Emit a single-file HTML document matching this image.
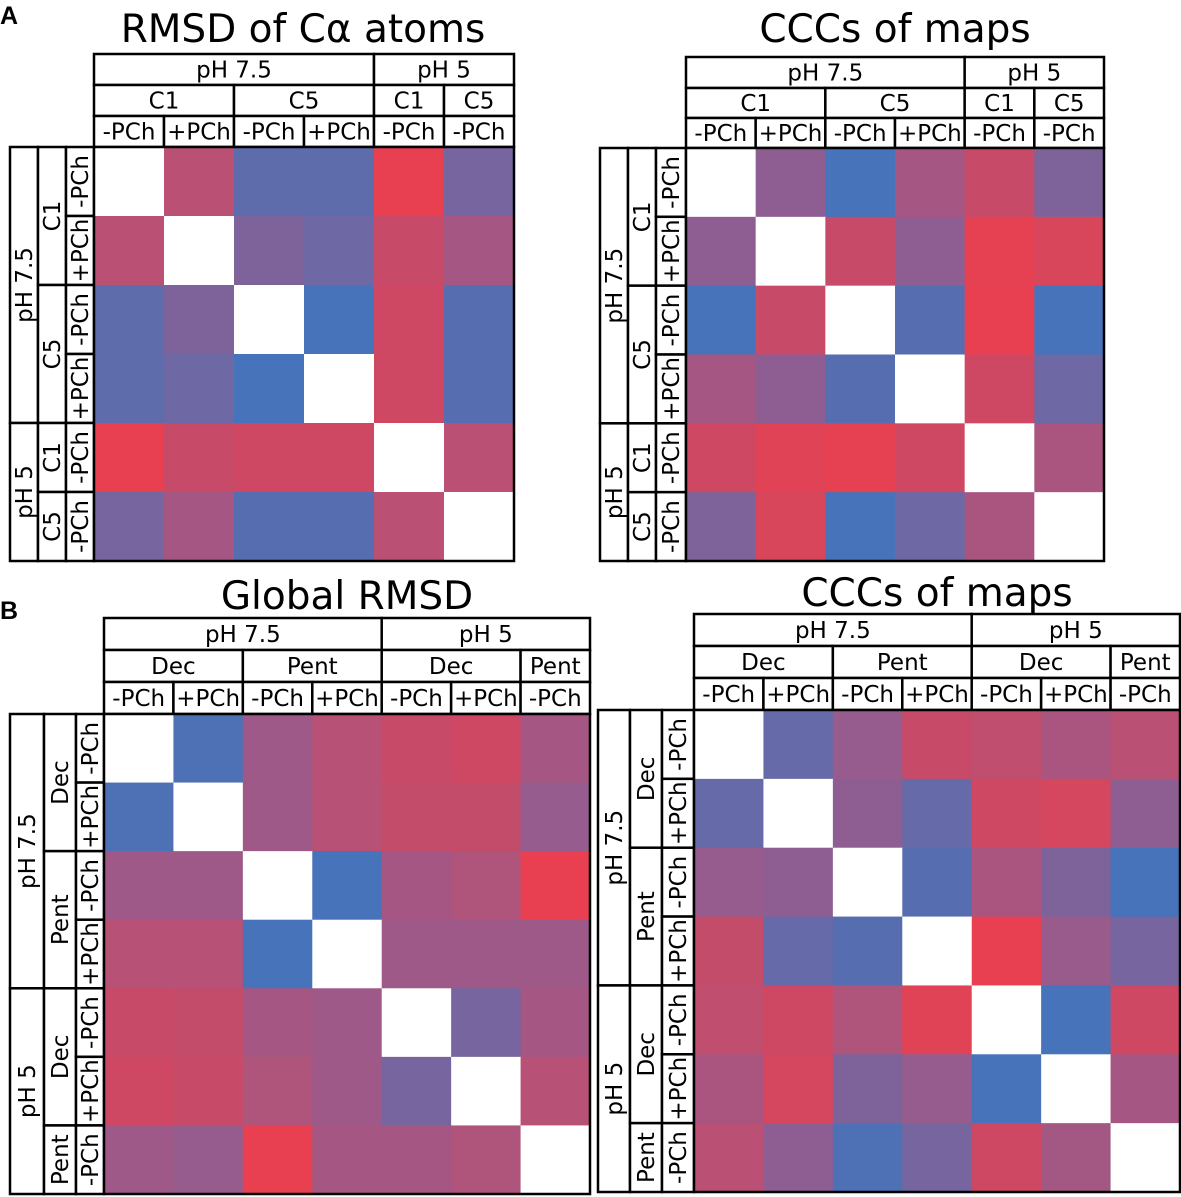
<!DOCTYPE html>
<html><head><meta charset="utf-8"><style>
html,body{margin:0;padding:0;background:#fff;}
svg{display:block;font-family:"DejaVu Sans","Liberation Sans",sans-serif;}
</style></head><body>
<svg id="fig" width="1181" height="1197" viewBox="0 0 1181 1197" xmlns="http://www.w3.org/2000/svg">
<text x="0" y="24" font-size="25" font-weight="bold" font-family="Liberation Sans, sans-serif">A</text>
<text x="0" y="619" font-size="25" font-weight="bold" font-family="Liberation Sans, sans-serif">B</text>
</svg>
<script>
// ---- data ----
const aLevel1 = ["pH 7.5","pH 5"];
const aLevel1Span = [4,2];
const aLevel2 = ["C1","C5","C1","C5"];
const aLevel2Span = [2,2,1,1];
const aLevel3 = ["-PCh","+PCh","-PCh","+PCh","-PCh","-PCh"];
const bLevel1 = ["pH 7.5","pH 5"];
const bLevel1Span = [4,3];
const bLevel2 = ["Dec","Pent","Dec","Pent"];
const bLevel2Span = [2,2,2,1];
const bLevel3 = ["-PCh","+PCh","-PCh","+PCh","-PCh","+PCh","-PCh"];
// values 0 = blue, 1 = red, null = diagonal (white)
const rmsdCa = [
 [null,0.72,0.15,0.15,1.0,0.3],
 [0.72,null,0.35,0.25,0.8,0.6],
 [0.15,0.35,null,0.0,0.85,0.1],
 [0.15,0.25,0.0,null,0.85,0.1],
 [1.0,0.8,0.85,0.85,null,0.72],
 [0.3,0.6,0.1,0.1,0.72,null]];
const cccA = [
 [null,0.45,0.0,0.6,0.8,0.35],
 [0.45,null,0.8,0.45,0.98,0.9],
 [0.0,0.8,null,0.1,1.0,0.0],
 [0.6,0.45,0.1,null,0.85,0.25],
 [0.85,0.95,0.98,0.85,null,0.62],
 [0.35,0.9,0.0,0.25,0.62,null]];
const globalRmsd = [
 [null,0.05,0.55,0.7,0.8,0.85,0.6],
 [0.05,null,0.55,0.7,0.78,0.78,0.5],
 [0.55,0.55,null,0.0,0.6,0.65,1.0],
 [0.7,0.7,0.0,null,0.55,0.55,0.55],
 [0.8,0.78,0.6,0.55,null,0.3,0.6],
 [0.85,0.8,0.65,0.55,0.3,null,0.7],
 [0.55,0.5,1.0,0.6,0.6,0.65,null]];
const cccB = [
 [null,0.2,0.5,0.8,0.75,0.62,0.72],
 [0.2,null,0.45,0.2,0.85,0.88,0.45],
 [0.5,0.45,null,0.1,0.62,0.35,0.0],
 [0.78,0.2,0.1,null,1.0,0.52,0.3],
 [0.75,0.85,0.65,0.95,null,0.0,0.85],
 [0.62,0.88,0.35,0.5,0.0,null,0.6],
 [0.72,0.45,0.05,0.3,0.85,0.58,null]];

const NS="http://www.w3.org/2000/svg";
const svg=document.getElementById('fig');
function color(v){
  const b=[70,115,185], m=[150,92,142], r=[232,64,80];
  let c;
  if(v<0.5){const t=v/0.5;c=b.map((x,i)=>Math.round(x+(m[i]-x)*t));}
  else{const t=(v-0.5)/0.5;c=m.map((x,i)=>Math.round(x+(r[i]-x)*t));}
  return `rgb(${c[0]},${c[1]},${c[2]})`;
}
function mk(tag,attrs,parent){const e=document.createElementNS(NS,tag);for(const k in attrs)e.setAttribute(k,attrs[k]);(parent||svg).appendChild(e);return e;}
function box(g,x,y,w,h,label,name,rot){
  const r=mk('rect',{x:x,y:y,width:w,height:h,fill:'#fff',stroke:'#000','stroke-width':2.5},g);
  
  
  const t=mk('text',{'font-size':23,'text-anchor':'middle','dominant-baseline':'central'},g);
  if(rot){const cx=x+w/2,cy=y+h/2;t.setAttribute('x',cx);t.setAttribute('y',cy+1);t.setAttribute('transform',`rotate(-90 ${cx} ${cy})`);}
  else{t.setAttribute('x',x+w/2);t.setAttribute('y',y+h/2+1);}
  t.textContent=label;
  
  
}
function panel(p){
  const g=mk('g',{});
  
  
  const n=p.values.length, cw=(p.x1-p.x0)/n, ch=(p.y1-p.y0)/n;
  const tt=mk('text',{x:p.tx,y:p.ty,'font-size':39,'text-anchor':'middle'},g);
  tt.textContent=p.title;
  
  
  const levels=[[p.l1,p.s1],[p.l2,p.s2],[p.l3,p.l3.map(()=>1)]];
  levels.forEach((lv,li)=>{
    let c=0;
    lv[0].forEach((lab,i)=>{
      const s=lv[1][i];
      box(g,p.x0+c*cw,p.hy[li],s*cw,p.hy[li+1]-p.hy[li],lab,'column-header',false);
      box(g,p.lx[li],p.y0+c*ch,p.lx[li+1]-p.lx[li],s*ch,lab,'row-header',true);
      c+=s;
    });
  });
  for(let i=0;i<n;i++)for(let j=0;j<n;j++){
    const v=p.values[i][j];
    const r=mk('rect',{x:p.x0+j*cw,y:p.y0+i*ch,width:cw+0.6,height:ch+0.6,fill:v===null?'#fff':color(v)},g);
    
    
  }
  const fr=mk('rect',{x:p.x0,y:p.y0,width:p.x1-p.x0,height:p.y1-p.y0,fill:'none',stroke:'#000','stroke-width':2.5},g);
  
  
}
panel({name:'rmsd-ca-panel',title:'RMSD of Cα atoms',tx:303,ty:42,values:rmsdCa,
  x0:94,x1:514,y0:147,y1:561,hy:[54,85,116,147],lx:[10,38,66,94],
  l1:aLevel1,s1:aLevel1Span,l2:aLevel2,s2:aLevel2Span,l3:aLevel3});
panel({name:'ccc-maps-a-panel',title:'CCCs of maps',tx:895,ty:42,values:cccA,
  x0:686,x1:1104,y0:148,y1:561,hy:[57,88,118,148],lx:[600,628,656,686],
  l1:aLevel1,s1:aLevel1Span,l2:aLevel2,s2:aLevel2Span,l3:aLevel3});
panel({name:'global-rmsd-panel',title:'Global RMSD',tx:347,ty:609,values:globalRmsd,
  x0:104,x1:590,y0:714,y1:1194,hy:[618,650,682,714],lx:[10,44,76,104],
  l1:bLevel1,s1:bLevel1Span,l2:bLevel2,s2:bLevel2Span,l3:bLevel3});
panel({name:'ccc-maps-b-panel',title:'CCCs of maps',tx:937,ty:606,values:cccB,
  x0:694,x1:1180,y0:710,y1:1192,hy:[614,646,678,710],lx:[598,630,662,694],
  l1:bLevel1,s1:bLevel1Span,l2:bLevel2,s2:bLevel2Span,l3:bLevel3});
</script>
</body></html>
